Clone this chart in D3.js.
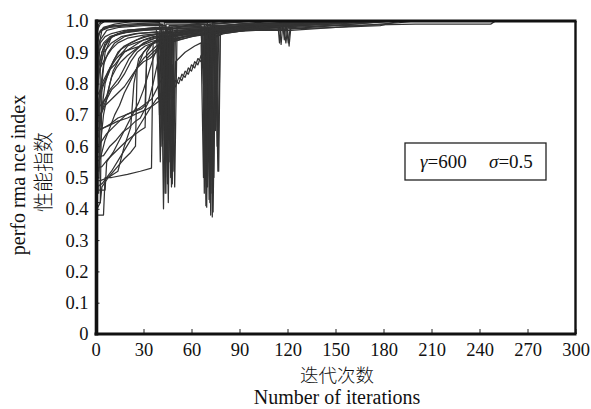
<!DOCTYPE html>
<html><head><meta charset="utf-8">
<script src="https://cdn.jsdelivr.net/npm/d3@7"></script>
<style>
html,body{margin:0;padding:0;background:#fff;}
svg{display:block;}
text{font-family:"Liberation Serif","Times New Roman",serif;fill:#111;}
</style></head>
<body>
<svg id="chart" width="591" height="409"></svg>
<script>
// ---- data ----
const xTicks = [0,30,60,90,120,150,180,210,240,270,300];
const yTicks = [0,0.1,0.2,0.3,0.4,0.5,0.6,0.7,0.8,0.9,1.0];
const xLabelCn = "迭代次数";
const xLabelEn = "Number of iterations";
const yLabelEn = "perfo rma nce index";
const yLabelCn = "性能指数";
const legendGamma = "600";
const legendSigma = "0.5";

// each series: [iteration, performance index] breakpoints
const s01 = [[0,0],[1,0.97],[3,0.99],[6,1],[300,1]];
const s02 = [[0,0],[1,0.88],[2,0.96],[5,0.98],[12,0.99],[25,1],[300,1]];
const s03 = [[0,0],[1,0.62],[2,0.92],[4,0.97],[9,0.98],[30,0.99],[41,0.99],[42.5,0.40],[44,0.97],[60,0.99],[80,1],[300,1]];
const s04 = [[0,0],[1,0.8],[3,0.93],[6,0.95],[10,0.96],[18,0.97],[30,0.975],[40,0.98],[44,0.98],[45.5,0.62],[47,0.98],[70,0.99],[71.5,0.42],[73,0.99],[100,1],[300,1]];
const s05 = [[0,0],[1,0.45],[2,0.45],[3,0.85],[5,0.9],[10,0.93],[16,0.95],[25,0.96],[39,0.965],[40.5,0.55],[42,0.96],[55,0.97],[68,0.975],[69.5,0.405],[71,0.98],[90,0.99],[130,0.995],[160,1],[300,1]];
const s06 = [[0,0],[1,0.5],[2,0.75],[4,0.8],[8,0.84],[12,0.86],[18,0.9],[24,0.92],[30,0.94],[36,0.95],[43,0.955],[44.5,0.7],[46,0.955],[60,0.965],[72,0.97],[73,0.374],[74.5,0.97],[85,0.98],[115,0.985],[116,0.925],[117,0.985],[150,0.99],[180,1],[300,1]];
const s07 = [[0,0],[1,0.38],[5,0.38],[6,0.5],[10,0.5],[20,0.51],[28,0.52],[35,0.53],[36,0.93],[40,0.95],[46,0.955],[47.5,0.47],[49,0.955],[60,0.96],[75,0.965],[76.5,0.52],[78,0.965],[90,0.97],[120,0.975],[121,0.92],[122,0.975],[150,0.98],[190,0.995],[200,1],[300,1]];
const s08 = [[0,0],[1,0.49],[3,0.49],[8,0.5],[14,0.52],[18,0.6],[22,0.66],[24,0.8],[27,0.88],[33,0.92],[42,0.94],[43.5,0.45],[45,0.94],[55,0.95],[67,0.96],[68.5,0.55],[70,0.96],[80,0.97],[110,0.98],[140,0.99],[170,1],[300,1]];
const s09 = [[0,0],[1,0.66],[3,0.655],[8,0.665],[14,0.68],[20,0.69],[26,0.705],[31,0.715],[36,0.73],[40,0.745],[42,0.75],[44,0.76],[46,0.79],[48,0.78],[50,0.81],[52,0.80],[54,0.83],[56,0.82],[58,0.85],[60,0.84],[62,0.87],[64,0.86],[66,0.89],[68,0.9],[70,0.93],[72,0.94],[78,0.96],[90,0.975],[110,0.985],[150,0.995],[180,1],[300,1]];
const s10 = [[0,0],[1,0.47],[4,0.48],[10,0.52],[16,0.57],[22,0.62],[28,0.67],[34,0.72],[38,0.75],[42,0.77],[44,0.78],[46,0.77],[48,0.8],[50,0.79],[52,0.82],[54,0.81],[56,0.84],[58,0.83],[60,0.86],[62,0.85],[64,0.88],[66,0.87],[68,0.91],[70,0.93],[71,0.55],[72,0.94],[80,0.96],[100,0.975],[130,0.99],[170,1],[300,1]];
const s11 = [[0,0],[1,0.53],[4,0.535],[8,0.56],[12,0.58],[16,0.6],[20,0.62],[24,0.635],[28,0.65],[31,0.66],[32,0.9],[36,0.93],[40,0.94],[41,0.94],[42,0.65],[43,0.94],[55,0.96],[70,0.97],[71.5,0.45],[73,0.97],[85,0.98],[120,0.99],[150,1],[300,1]];
const s12 = [[0,0],[1,0.565],[5,0.57],[9,0.6],[13,0.62],[17,0.645],[21,0.66],[25,0.68],[28,0.69],[30,0.71],[33,0.74],[36,0.8],[39,0.87],[42,0.91],[44,0.92],[45,0.48],[46,0.93],[60,0.95],[68,0.96],[69,0.41],[70,0.96],[90,0.98],[130,0.99],[160,1],[300,1]];
const s13 = [[0,0],[1,0.6],[3,0.61],[7,0.64],[11,0.66],[15,0.68],[19,0.7],[23,0.71],[27,0.72],[31,0.735],[35,0.75],[38,0.78],[42,0.82],[46,0.85],[48,0.86],[49,0.6],[50,0.87],[56,0.9],[62,0.92],[66,0.93],[67.5,0.5],[69,0.94],[80,0.96],[100,0.975],[140,0.99],[180,1],[300,1]];
const s14 = [[0,0],[1,0.65],[4,0.655],[9,0.67],[14,0.69],[19,0.7],[24,0.71],[29,0.72],[31,0.73],[32,0.88],[36,0.9],[40,0.92],[42,0.93],[43,0.55],[44,0.93],[60,0.95],[72,0.96],[73.5,0.39],[75,0.96],[90,0.975],[120,0.985],[170,1],[300,1]];
const s15 = [[0,0],[1,0.72],[3,0.73],[6,0.75],[9,0.78],[12,0.8],[15,0.82],[18,0.85],[21,0.88],[24,0.9],[28,0.92],[34,0.94],[40,0.95],[45,0.955],[46.5,0.75],[48,0.96],[60,0.97],[74,0.975],[75,0.7],[76,0.975],[100,0.985],[140,0.995],[175,1],[300,1]];
const s16 = [[0,0],[1,0.76],[3,0.78],[5,0.8],[8,0.83],[11,0.87],[14,0.9],[18,0.92],[22,0.93],[26,0.94],[32,0.95],[40,0.96],[43,0.96],[44,0.8],[45,0.96],[66,0.97],[67,0.85],[68,0.97],[100,0.99],[130,1],[300,1]];
const s17 = [[0,0],[1,0.82],[3,0.85],[6,0.88],[10,0.91],[14,0.93],[20,0.945],[30,0.955],[39,0.96],[40,0.7],[41,0.96],[70,0.975],[71,0.8],[72,0.975],[100,0.985],[119,0.99],[120.5,0.93],[122,0.99],[160,1],[300,1]];
const s18 = [[0,0],[1,0.86],[2,0.9],[5,0.93],[9,0.95],[15,0.96],[25,0.97],[46,0.975],[47,0.85],[48,0.975],[69,0.98],[70,0.6],[71,0.98],[90,0.99],[114,0.99],[115,0.93],[116,0.99],[150,1],[300,1]];
const s19 = [[0,0],[1,0.9],[3,0.94],[7,0.97],[15,0.98],[30,0.985],[44,0.985],[45,0.58],[46,0.985],[72,0.99],[73,0.65],[74,0.99],[100,1],[300,1]];
const s20 = [[0,0],[1,0.93],[3,0.97],[10,0.985],[42,0.99],[43,0.7],[44,0.99],[68,0.99],[69.5,0.75],[71,0.99],[90,1],[300,1]];
const s21 = [[0,0],[1,0.4],[3,0.42],[4,0.8],[6,0.9],[10,0.95],[20,0.97],[41,0.975],[42.5,0.9],[44,0.975],[70,0.98],[72,0.88],[74,0.98],[110,0.99],[140,1],[300,1]];
const s22 = [[0,0],[1,0.5],[2,0.5],[3,0.6],[5,0.7],[7,0.75],[9,0.8],[11,0.84],[14,0.87],[17,0.9],[20,0.92],[25,0.93],[31,0.94],[38,0.95],[47,0.95],[48,0.48],[49,0.95],[60,0.96],[76,0.965],[77,0.52],[78,0.965],[85,0.965],[100,0.97],[122,0.97],[150,0.98],[178,0.985],[190,1],[300,1]];
const s23 = [[0,0],[1,0.7],[4,0.78],[8,0.84],[12,0.88],[16,0.91],[22,0.93],[30,0.95],[40,0.96],[50,0.97],[80,0.98],[150,0.985],[200,0.99],[247,0.99],[250,1],[300,1]];
const s24 = [[0,0],[1,0.68],[3,0.68],[5,0.74],[7,0.76],[10,0.82],[13,0.85],[16,0.87],[20,0.89],[25,0.91],[30,0.93],[35,0.94],[40,0.95],[44,0.95],[45.5,0.42],[47,0.95],[55,0.965],[71,0.97],[72,0.38],[73,0.97],[90,0.98],[140,0.99],[170,1],[300,1]];
const s25 = [[0,0],[1,0.75],[2,0.85],[4,0.9],[6,0.93],[10,0.95],[20,0.965],[35,0.975],[48,0.98],[49.5,0.47],[51,0.98],[75,0.985],[76,0.6],[77,0.985],[100,0.995],[120,1],[300,1]];
const s26 = [[0,0],[1,0.95],[2,0.99],[4,1],[300,1]];
const s27 = [[0,0],[1,0.55],[3,0.56],[6,0.62],[9,0.66],[12,0.7],[15,0.73],[18,0.77],[21,0.8],[24,0.83],[27,0.86],[30,0.88],[34,0.9],[38,0.92],[42,0.93],[44,0.935],[45,0.5],[46,0.94],[55,0.95],[70,0.96],[71,0.43],[72,0.96],[90,0.97],[118,0.975],[119,0.93],[120,0.975],[150,0.985],[185,1],[300,1]];
const s28 = [[0,0],[1,0.46],[6,0.46],[7,0.55],[11,0.58],[15,0.62],[19,0.66],[23,0.7],[27,0.74],[30,0.78],[33,0.83],[36,0.88],[39,0.92],[41,0.93],[42,0.62],[43,0.94],[47,0.94],[48,0.72],[49,0.94],[60,0.955],[69,0.96],[70,0.5],[71,0.96],[74,0.96],[75,0.65],[76,0.965],[95,0.975],[130,0.99],[165,1],[300,1]];
const s29 = [[0,0],[1,0.58],[2,0.58],[3,0.78],[5,0.86],[8,0.9],[12,0.93],[18,0.95],[26,0.96],[40,0.965],[41,0.6],[42,0.965],[47,0.965],[48.5,0.52],[50,0.97],[70,0.975],[71,0.55],[72,0.975],[110,0.99],[150,1],[300,1]];
const s30 = [[0,0],[1,0.52],[2,0.52],[3,0.7],[6,0.74],[10,0.78],[14,0.8],[18,0.83],[22,0.87],[26,0.9],[31,0.92],[36,0.93],[40,0.94],[43,0.945],[44,0.45],[45,0.95],[58,0.96],[67,0.965],[68,0.45],[69,0.965],[95,0.98],[140,0.99],[175,1],[300,1]];
const s31 = [[0,0],[1,0.84],[4,0.9],[8,0.94],[14,0.96],[30,0.97],[45,0.975],[46,0.55],[47,0.975],[73,0.98],[74,0.5],[75,0.98],[120,0.995],[150,1],[300,1]];
const s32 = [[0,0],[1,0.63],[2,0.63],[4,0.72],[6,0.8],[9,0.85],[13,0.88],[17,0.9],[22,0.91],[28,0.92],[35,0.935],[40,0.94],[42,0.94],[43.5,0.6],[45,0.945],[55,0.955],[72,0.96],[72.8,0.45],[73.6,0.96],[85,0.97],[100,0.975],[125,0.98],[160,0.99],[190,1],[300,1]];
const s33 = [[0,0],[1,0.42],[3,0.42],[4,0.47],[8,0.5],[13,0.53],[18,0.56],[22,0.58],[25,0.6],[26,0.85],[30,0.9],[36,0.93],[42,0.95],[46,0.955],[47,0.5],[48,0.955],[60,0.965],[69,0.97],[70,0.47],[71,0.97],[100,0.985],[150,0.995],[180,1],[300,1]];
const s34 = [[0,0],[1,0.92],[2,0.96],[6,0.98],[20,0.99],[40,0.995],[41.5,0.82],[43,0.995],[70,0.995],[71.5,0.72],[73,0.995],[80,1],[300,1]];
const s35 = [[0,0],[1,0.78],[3,0.86],[6,0.92],[10,0.95],[20,0.97],[38,0.98],[39.5,0.75],[41,0.98],[66,0.985],[67.5,0.8],[69,0.985],[117,0.99],[118,0.94],[119,0.99],[140,1],[300,1]];
const s36 = [[0,0],[1,0.7],[3,0.7],[6,0.73],[10,0.75],[14,0.77],[18,0.79],[22,0.82],[26,0.85],[30,0.87],[34,0.88],[38,0.9],[41,0.92],[43,0.93],[44,0.55],[45,0.93],[50,0.94],[55,0.95],[62,0.955],[68,0.955],[69,0.62],[70,0.96],[85,0.97],[105,0.98],[140,0.99],[170,1],[300,1]];

const allSeries = [s01,s02,s03,s04,s05,s06,s07,s08,s09,s10,s11,s12,s13,s14,s15,s16,s17,s18,
  s19,s20,s21,s22,s23,s24,s25,s26,s27,s28,s29,s30,s31,s32,s33,s34,s35,s36];

// ---- layout ----
const svg = d3.select("#chart");
const x = d3.scaleLinear().domain([0,300]).range([95.5,575.5]);
const y = d3.scaleLinear().domain([0,1]).range([334,21]);

svg.append("defs").append("clipPath").attr("id","plotclip")
  .append("rect").attr("x",x(0)).attr("y",y(1)-1).attr("width",x(300)-x(0)).attr("height",y(0)-y(1)+1);

const line = d3.line().x(d=>x(d[0])).y(d=>y(d[1]));
svg.append("g").attr("clip-path","url(#plotclip)")
  .selectAll("path").data(allSeries).join("path")
  .attr("d",line).attr("fill","none")
  .attr("stroke","#333").attr("stroke-width",1.25).attr("stroke-linejoin","round");

// axes
const fmtY = d => d===0 ? "0" : d3.format(".1f")(d);
const xAxis = d3.axisBottom(x).tickValues(xTicks).tickSizeInner(-5).tickSizeOuter(0).tickPadding(9);
const yAxis = d3.axisLeft(y).tickValues(yTicks).tickFormat(fmtY).tickSizeInner(-4).tickSizeOuter(0).tickPadding(7);
const gx = svg.append("g").attr("transform",`translate(0,${y(0)})`).call(xAxis);
const gy = svg.append("g").attr("transform",`translate(${x(0)},0)`).call(yAxis);
[gx,gy].forEach(g=>{
  g.attr("font-family",'"Liberation Serif", "Times New Roman", serif').attr("font-size",18.5);
  g.select(".domain").remove();
  g.selectAll(".tick line").attr("stroke","#222").attr("stroke-width",1);
  g.selectAll(".tick text").attr("fill","#111")
    .style("font-family",'"Liberation Serif", "Times New Roman", serif').style("font-size","18.5px");
});

// frame
svg.append("line").attr("x1",x(0)).attr("x2",x(300)+1).attr("y1",y(1)).attr("y2",y(1)).attr("stroke","#111").attr("stroke-width",2.8);
svg.append("line").attr("x1",x(300)).attr("x2",x(300)).attr("y1",y(1)).attr("y2",y(0)).attr("stroke","#111").attr("stroke-width",2.4);
svg.append("line").attr("x1",x(0)-1).attr("x2",x(300)+1).attr("y1",y(0)).attr("y2",y(0)).attr("stroke","#111").attr("stroke-width",3);
svg.append("line").attr("x1",x(0)+1).attr("x2",x(0)+1).attr("y1",y(1)-1.4).attr("y2",y(0)+1.5).attr("stroke","#111").attr("stroke-width",3.6);

// legend
const lg = svg.append("g");
lg.append("rect").attr("x",405).attr("y",143).attr("width",141).attr("height",37)
  .attr("fill","#fff").attr("stroke","#222").attr("stroke-width",1.3);
const lt = lg.append("text").attr("y",168).style("font-size","19px");
lt.append("tspan").attr("x",420).style("font-style","italic").text("γ");
lt.append("tspan").text("=" + legendGamma);
lt.append("tspan").attr("x",489).style("font-style","italic").text("σ");
lt.append("tspan").text("=" + legendSigma);

// axis titles
svg.append("text").attr("x",337).attr("y",382).attr("text-anchor","middle")
  .style("font-family",'"Noto Sans CJK SC",sans-serif').style("font-size","18.5px").style("font-weight","300").text(xLabelCn);
svg.append("text").attr("x",337).attr("y",404).attr("text-anchor","middle")
  .style("font-size","20px").text(xLabelEn);
svg.append("text").attr("transform","translate(25,175) rotate(-90)").attr("text-anchor","middle")
  .style("font-size","20px").text(yLabelEn);
svg.append("text").attr("transform","translate(51,172) rotate(-90)").attr("text-anchor","middle")
  .style("font-family",'"Noto Sans CJK SC",sans-serif').style("font-size","20px").style("font-weight","300").text(yLabelCn);
</script>
</body></html>
